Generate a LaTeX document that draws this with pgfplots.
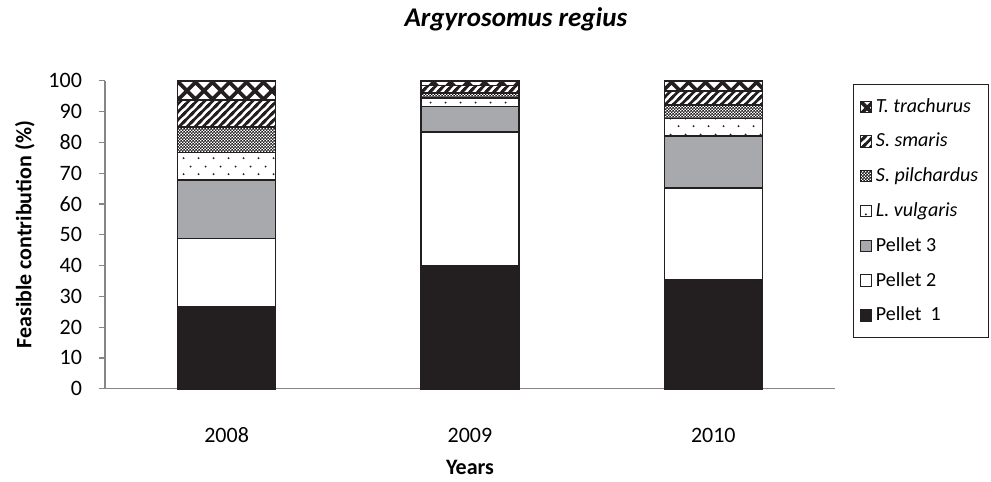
\documentclass[border=0pt]{standalone}
\usepackage{fontspec}
\setmainfont{Carlito}
\usepackage{pgfplots}
\pgfplotsset{compat=1.18}
\usetikzlibrary{patterns}
\definecolor{barblack}{HTML}{231F20}
\definecolor{bargray}{HTML}{A7A9AC}
\definecolor{axgray}{HTML}{868686}
\pgfdeclarepatternformonly{sparsedots}{\pgfqpoint{0pt}{0pt}}{\pgfqpoint{7.5pt}{8pt}}{\pgfqpoint{7.5pt}{8pt}}{%
  \pgfpathcircle{\pgfqpoint{1.875pt}{2pt}}{0.55pt}%
  \pgfpathcircle{\pgfqpoint{5.625pt}{6pt}}{0.55pt}%
  \pgfusepath{fill}}
\pgfdeclarepatternformonly{thickdiag}{\pgfqpoint{-1pt}{-1pt}}{\pgfqpoint{5pt}{5pt}}{\pgfqpoint{4pt}{4pt}}{%
  \pgfsetlinewidth{1.3pt}%
  \pgfpathmoveto{\pgfqpoint{-1pt}{-1pt}}\pgfpathlineto{\pgfqpoint{5pt}{5pt}}%
  \pgfpathmoveto{\pgfqpoint{-1pt}{3pt}}\pgfpathlineto{\pgfqpoint{1pt}{5pt}}%
  \pgfpathmoveto{\pgfqpoint{3pt}{-1pt}}\pgfpathlineto{\pgfqpoint{5pt}{1pt}}%
  \pgfusepath{stroke}}
\pgfdeclarepatternformonly{bigcross}{\pgfqpoint{-1pt}{-1pt}}{\pgfqpoint{9.5pt}{9.5pt}}{\pgfqpoint{8.5pt}{8.5pt}}{%
  \pgfsetlinewidth{1.8pt}%
  \pgfpathmoveto{\pgfqpoint{-1pt}{-1pt}}\pgfpathlineto{\pgfqpoint{9.5pt}{9.5pt}}%
  \pgfpathmoveto{\pgfqpoint{-1pt}{9.5pt}}\pgfpathlineto{\pgfqpoint{9.5pt}{-1pt}}%
  \pgfusepath{stroke}}
\pgfdeclarepatternformonly{finecheck}{\pgfqpoint{0pt}{0pt}}{\pgfqpoint{1.4pt}{1.4pt}}{\pgfqpoint{1.4pt}{1.4pt}}{%
  \pgfpathrectangle{\pgfqpoint{0pt}{0pt}}{\pgfqpoint{0.8pt}{0.8pt}}%
  \pgfpathrectangle{\pgfqpoint{0.7pt}{0.7pt}}{\pgfqpoint{0.8pt}{0.8pt}}%
  \pgfusepath{fill}}

\pgfplotstableread{
x p1 p2 p3 lv sp ss tt
0 26.5 22.3 19.0 8.9 8.3 8.8 6.2
1 39.8 43.6 8.2 2.8 1.6 2.4 1.6
2 35.3 29.8 17.0 5.6 4.5 4.4 3.4
}\datatable

\begin{document}
\begin{tikzpicture}
\begin{axis}[
  scale only axis,
  width=365pt, height=154pt,
  ybar stacked,
  bar width=49pt,
  ymin=0, ymax=100,
  xmin=-0.5, xmax=2.5,
  ytick={0,10,...,100},
  xtick={0,1,2},
  xticklabels={2008,2009,2010},
  extra x ticks={-0.5,0.5,1.5,2.5},
  extra x tick labels={},
  extra x tick style={major tick length=3pt, tick style={axgray, line width=0.6pt}},
  axis lines=left,
  axis line style={-, axgray, line width=0.7pt},
  tick align=outside,
  major tick length=3pt,
  xtick style={draw=none},
  ytick style={axgray, line width=0.6pt},
  x tick label style={yshift=-13pt},
  y tick label style={xshift=-5pt},
  tick label style={font=\fontsize{11}{13}\selectfont},
  /pgf/number format/assume math mode=true,
  xlabel={\textbf{Years}},
  ylabel={\textbf{Feasible contribution (\%)}},
  label style={font=\fontsize{11}{13}\selectfont},
  xlabel style={yshift=4pt},
  ylabel style={yshift=0pt},
  title={\textbf{\textit{Argyrosomus regius}}},
  title style={font=\fontsize{13.5}{15}\selectfont, yshift=15.5pt, xshift=23pt},
  clip=false,
  every axis plot/.append style={draw=barblack, line width=0.8pt},
  legend style={at={(1,1)}, anchor=north west, xshift=9pt, yshift=-1.5pt,
    draw=barblack, line width=0.6pt, font=\fontsize{10}{12}\selectfont,
    row sep=4.95pt, inner ysep=5pt, inner xsep=3pt,
    cells={anchor=west}},
  legend image code/.code={\draw[#1, line width=0.5pt] (0cm,-0.1cm) rectangle (0.2cm,0.1cm);},
  reverse legend,
]
\addplot[fill=barblack] table[x=x,y=p1]{\datatable};
\addplot[fill=white] table[x=x,y=p2]{\datatable};
\addplot[fill=bargray] table[x=x,y=p3]{\datatable};
\addplot[pattern=sparsedots, pattern color=barblack] table[x=x,y=lv]{\datatable};
\addplot[pattern=finecheck, pattern color=barblack] table[x=x,y=sp]{\datatable};
\addplot[pattern=thickdiag, pattern color=barblack] table[x=x,y=ss]{\datatable};
\addplot[pattern=bigcross, pattern color=barblack] table[x=x,y=tt]{\datatable};
\legend{Pellet\ \ 1, Pellet 2, Pellet 3, \textit{L. vulgaris}, \textit{S. pilchardus}, \textit{S. smaris}, \textit{T. trachurus}}
\path (rel axis cs:-0.1438,-0.2790) rectangle (rel axis cs:1.2137,1.262);
\end{axis}
\end{tikzpicture}
\end{document}
